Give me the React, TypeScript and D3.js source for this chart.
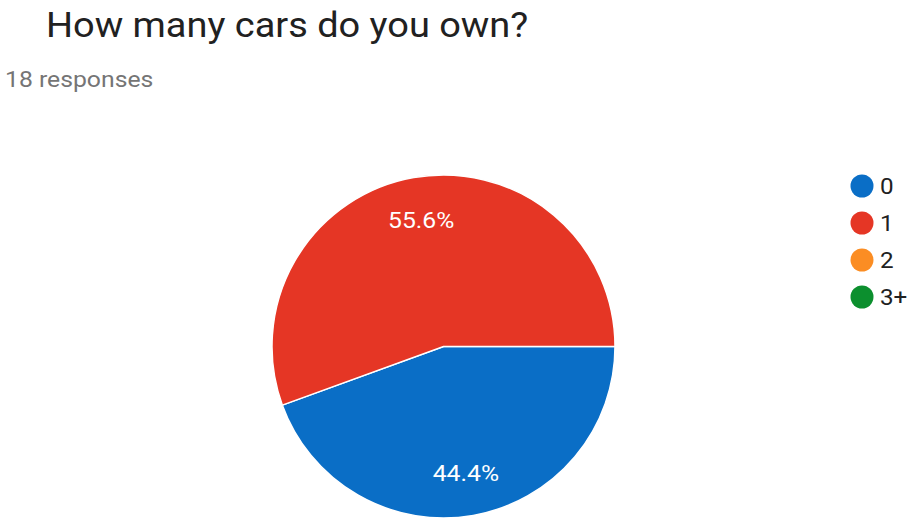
import React from "react";
import * as d3 from "d3";

const categories = ["0", "1", "2", "3+"];
const counts = [8, 10, 0, 0];
const colors = ["#0a6ec6", "#e53625", "#fb8d23", "#0c8f2e"];
const title = "How many cars do you own?";
const subtitle = "18 responses";

export default function App() {
  const W = 914, H = 523;
  const cx = 443.5, cy = 346.5, r = 171.5;
  const sx = 1.1;
  const total = d3.sum(counts);
  const data = categories.map((c, i) => ({ c, v: counts[i], color: colors[i] }));
  const pie = d3.pie<any>().value((d: any) => d.v).sort(null)
    .startAngle(Math.PI / 2).endAngle(Math.PI / 2 + 2 * Math.PI);
  const arcs = pie(data).filter((a) => a.data.v > 0);
  const arc = d3.arc<any>().innerRadius(0).outerRadius(r);
  const labelArc = d3.arc<any>().innerRadius(r * 0.75).outerRadius(r * 0.75);
  const fmt = d3.format(".1%");
  const legendY = d3.scalePoint<string>().domain(categories).range([186, 297]);
  return (
    <svg width={W} height={H} style={{ position: "absolute", left: 0, top: 0, fontFamily: "Roboto, Arial, sans-serif" }}>
      <rect width={W} height={H} fill="#fff" />
      <text transform={`translate(46,37) scale(${sx},1)`} fontSize={34.5} fill="#212121">{title}</text>
      <text transform={`translate(5,87) scale(${sx},1)`} fontSize={22.5} fill="#757575">{subtitle}</text>
      <g transform={`translate(${cx},${cy})`}>
        {arcs.map((a, i) => (
          <path key={i} d={arc(a) as string} fill={a.data.color} stroke="#fff" strokeWidth={1.5} />
        ))}
        {arcs.map((a, i) => {
          const [x, y] = labelArc.centroid(a);
          return (
            <text key={"l" + i} transform={`translate(${x},${y}) scale(${sx},1)`} dy="0.35em" textAnchor="middle" fontSize={22.5} fill="#fff">
              {fmt(a.data.v / total)}
            </text>
          );
        })}
      </g>
      {categories.map((c, i) => (
        <g key={c} transform={`translate(862,${legendY(c)})`}>
          <circle r={11.5} fill={colors[i]} />
          <text transform={`translate(18,0) scale(${sx},1)`} dy="0.35em" fontSize={22} fill="#212121">{c}</text>
        </g>
      ))}
    </svg>
  );
}
